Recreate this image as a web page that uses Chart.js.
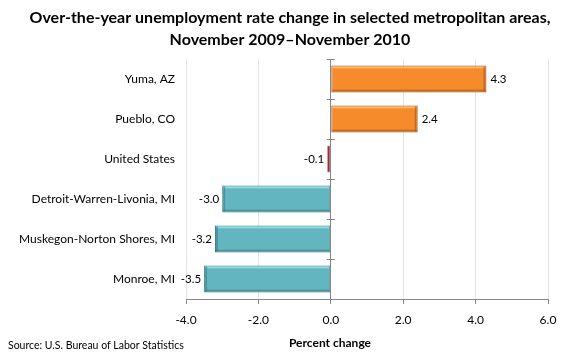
<!DOCTYPE html>
<html>
<head>
<meta charset="utf-8">
<script src="https://cdn.jsdelivr.net/npm/chart.js@4.4.1/dist/chart.umd.min.js"></script>
<style>
  html, body { margin: 0; padding: 0; background: #fff; }
  #wrap { width: 580px; height: 360px; position: relative; }
</style>
</head>
<body>
<div id="wrap"><canvas id="chart" width="580" height="360"></canvas></div>
<script>
// data
const areas = ['Yuma, AZ', 'Pueblo, CO', 'United States', 'Detroit-Warren-Livonia, MI', 'Muskegon-Norton Shores, MI', 'Monroe, MI'];
const changes = [4.3, 2.4, -0.1, -3.0, -3.2, -3.5];
const barColors = ['#f68b2b', '#f68b2b', '#7a0c10', '#63b5bf', '#63b5bf', '#63b5bf'];
const edgeColors = ['#9c5514', '#9c5514', '#c46a6a', '#3b7a82', '#3b7a82', '#3b7a82'];
const lightColors = ['#fbb56e', '#fbb56e', '#b03030', '#93d8e0', '#93d8e0', '#93d8e0'];
const titleLines = ['Over-the-year unemployment rate change in selected metropolitan areas,', 'November 2009\u2013November 2010'];
const axisTitle = 'Percent change';
const sourceText = 'Source: U.S. Bureau of Labor Statistics';

const FONT = 'Lato, "Liberation Sans", sans-serif';

// bevel look on the bars, done from the bar elements
const bevel = {
  id: 'bevel',
  afterDatasetsDraw(chart) {
    const ctx = chart.ctx;
    const meta = chart.getDatasetMeta(0);
    ctx.save();
    meta.data.forEach((bar, i) => {
      const left = Math.min(bar.x, bar.base);
      const right = Math.max(bar.x, bar.base);
      const top = bar.y - bar.height / 2;
      const bottom = bar.y + bar.height / 2;
      if (right - left < 5) return;
      ctx.fillStyle = lightColors[i];
      ctx.fillRect(left + 1, top + 1, right - left - 2, 2);
      ctx.fillStyle = edgeColors[i];
      ctx.globalAlpha = 0.55;
      ctx.fillRect(left + 1, bottom - 3, right - left - 2, 2);
      if (changes[i] >= 0) ctx.fillRect(right - 3, top + 1, 2, bottom - top - 2);
      else ctx.fillRect(left + 1, top + 1, 2, bottom - top - 2);
      ctx.globalAlpha = 1;
    });
    ctx.restore();
  }
};

// titles, source, value labels and ticks on the zero line
const extras = {
  id: 'extras',
  afterDraw(chart) {
    const ctx = chart.ctx;
    const area = chart.chartArea;
    const x = chart.scales.x;
    ctx.save();
    ctx.fillStyle = '#000';
    ctx.textAlign = 'center';
    ctx.textBaseline = 'middle';
    ctx.font = 'bold 16px ' + FONT;
    ctx.fillText(titleLines[0], 290, 18);
    ctx.fillText(titleLines[1], 290, 40);

    ctx.font = 'bold 12px ' + FONT;
    ctx.fillText(axisTitle, 330, 343);

    ctx.font = '10.5px ' + FONT;
    ctx.textAlign = 'left';
    ctx.fillText(sourceText, 8, 346);

    // small ticks crossing the zero line between categories
    const x0 = x.getPixelForValue(0);
    ctx.strokeStyle = '#888';
    ctx.lineWidth = 1;
    for (let i = 0; i <= areas.length; i++) {
      const yy = Math.round(area.top + (area.bottom - area.top) * i / areas.length) + 0.5;
      ctx.beginPath();
      ctx.moveTo(x0 - 4, yy);
      ctx.lineTo(x0 + 4, yy);
      ctx.stroke();
    }

    // value labels
    ctx.font = '11.5px ' + FONT;
    const meta = chart.getDatasetMeta(0);
    meta.data.forEach((bar, i) => {
      const v = changes[i];
      const txt = v.toFixed(1);
      if (v >= 0) {
        ctx.textAlign = 'left';
        ctx.fillText(txt, bar.x + 4, bar.y);
      } else {
        ctx.textAlign = 'right';
        ctx.fillText(txt, bar.x - 3, bar.y);
      }
    });
    ctx.restore();
  }
};

new Chart(document.getElementById('chart'), {
  type: 'bar',
  data: {
    labels: areas,
    datasets: [{
      data: changes,
      backgroundColor: barColors,
      borderColor: edgeColors,
      borderWidth: 1,
      borderSkipped: false,
      categoryPercentage: 0.68,
      barPercentage: 1
    }]
  },
  options: {
    indexAxis: 'y',
    responsive: false,
    animation: false,
    layout: { padding: { top: 59, right: 32, bottom: 0, left: 0 } },
    plugins: {
      legend: { display: false },
      tooltip: { enabled: false }
    },
    scales: {
      x: {
        min: -4,
        max: 6,
        ticks: {
          stepSize: 2,
          color: '#000',
          font: { family: FONT, size: 12 },
          padding: 9,
          callback: v => v.toFixed(1)
        },
        grid: {
          color: ctx => (ctx.tick && ctx.tick.value === 0) ? '#888' : '#dfe4ee',
          tickColor: '#888',
          tickLength: 5
        },
        border: { color: '#888' },
        afterFit: s => { s.height = 61; }
      },
      y: {
        ticks: {
          color: '#000',
          font: { family: FONT, size: 12 },
          padding: 11
        },
        grid: { display: false, drawTicks: false },
        border: { display: false },
        afterFit: s => { s.width = 186; }
      }
    }
  },
  plugins: [bevel, extras]
});
</script>
</body>
</html>
